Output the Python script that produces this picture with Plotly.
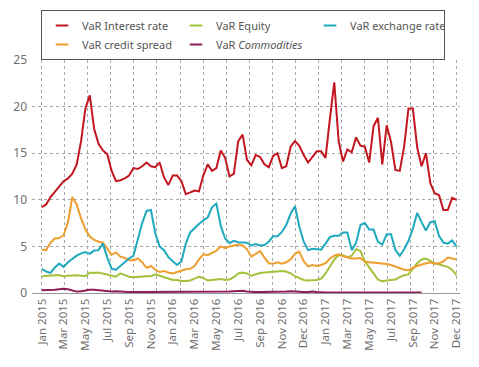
import plotly.graph_objects as go

tick_labels = ["Jan 2015", "Mar 2015", "May 2015", "Jul 2015", "Sep 2015", "Nov 2015",
               "Jan 2016", "Mar 2016", "May 2016", "Jul 2016", "Sep 2016", "Nov 2016",
               "Dec 2016", "Jan 2017", "Mar 2017", "May 2017", "Jul 2017", "Sep 2017",
               "Nov 2017", "Dec 2017"]

interest_rate = [9.2, 9.5, 10.3, 10.9, 11.5, 12.0, 12.3, 12.8, 13.8, 16.3,
                 19.8, 21.2, 17.6, 16.0, 15.3, 14.9, 13.1, 12.0, 12.1, 12.3,
                 12.6, 13.4, 13.3, 13.6, 14.0, 13.6, 13.5, 14.0, 12.4, 11.6,
                 12.6, 12.6, 12.0, 10.6, 10.8, 11.0, 10.9, 12.6, 13.8, 13.1,
                 13.4, 15.3, 14.5, 12.5, 12.8, 16.3, 17.0, 14.3, 13.7, 14.8,
                 14.6, 13.8, 13.5, 14.7, 15.0, 13.4, 13.6, 15.7, 16.3, 15.8,
                 14.8, 14.0, 14.6, 15.2, 15.2, 14.5, 18.7, 22.6, 16.3, 14.1,
                 15.4, 15.1, 16.7, 15.8, 15.7, 14.0, 17.9, 18.8, 13.8, 18.0,
                 16.2, 13.2, 13.1, 15.7, 19.8, 19.8, 15.6, 13.6, 15.0, 11.8,
                 10.7, 10.5, 8.9, 8.9, 10.2, 10.0]

equity = [1.8, 1.85, 1.9, 1.9, 1.9, 1.8, 1.85, 1.9, 1.9, 1.85,
          1.8, 2.2, 2.15, 2.2, 2.1, 1.95, 1.85, 1.75, 2.1, 1.9,
          1.75, 1.7, 1.75, 1.75, 1.8, 1.8, 2.0, 1.85, 1.7, 1.5,
          1.4, 1.4, 1.3, 1.3, 1.35, 1.55, 1.75, 1.6, 1.35, 1.4,
          1.45, 1.5, 1.4, 1.45, 1.7, 2.1, 2.2, 2.1, 1.85, 2.0,
          2.15, 2.2, 2.25, 2.3, 2.35, 2.35, 2.3, 2.1, 1.8, 1.6,
          1.4, 1.35, 1.35, 1.4, 1.55, 2.1, 2.85, 3.6, 4.05, 4.05,
          3.85, 4.0, 4.7, 4.5, 3.4, 2.7, 2.1, 1.45, 1.25, 1.35,
          1.4, 1.45, 1.7, 1.9, 2.0, 2.6, 3.2, 3.6, 3.7, 3.45,
          3.2, 3.05, 2.9, 2.8, 2.5, 1.9]

exchange_rate = [2.6, 2.3, 2.15, 2.75, 3.15, 2.8, 3.3, 3.7, 4.0, 4.25,
                 4.4, 4.2, 4.55, 4.6, 5.3, 3.8, 2.6, 2.5, 2.9, 3.4,
                 3.7, 4.0, 5.7, 7.5, 8.8, 8.9, 6.4, 5.0, 4.6, 3.85,
                 3.4, 3.0, 3.4, 5.3, 6.5, 7.0, 7.4, 7.8, 8.1, 9.2,
                 9.6, 7.2, 5.85, 5.35, 5.6, 5.45, 5.4, 5.4, 5.1, 5.25,
                 5.1, 5.15, 5.5, 6.1, 6.1, 6.55, 7.3, 8.5, 9.3, 7.1,
                 5.5, 4.6, 4.75, 4.7, 4.65, 5.3, 6.0, 6.15, 6.15, 6.5,
                 6.5, 4.6, 5.4, 7.3, 7.5, 6.8, 6.8, 5.5, 5.2, 6.3,
                 6.3, 4.6, 4.0, 4.7, 5.6, 6.9, 8.6, 7.6, 6.7, 7.6,
                 7.7, 6.1, 5.4, 5.3, 5.65, 5.0]

credit_spread = [4.65, 4.6, 5.4, 5.85, 5.9, 6.2, 7.6, 10.3, 9.5, 8.0,
                 6.8, 6.05, 5.7, 5.5, 5.4, 4.8, 4.1, 4.35, 3.9, 3.75,
                 3.55, 3.5, 3.7, 3.3, 2.7, 2.9, 2.5, 2.25, 2.35, 2.2,
                 2.1, 2.25, 2.4, 2.55, 2.6, 2.9, 3.6, 4.15, 4.05, 4.3,
                 4.55, 5.0, 4.8, 5.0, 5.1, 5.2, 5.1, 4.7, 3.9, 4.2,
                 4.5, 3.8, 3.2, 3.15, 3.3, 3.15, 3.3, 3.6, 4.2, 4.45,
                 3.4, 2.85, 3.0, 2.9, 3.0, 3.2, 3.7, 4.0, 4.15, 3.95,
                 3.85, 3.7, 3.7, 3.75, 3.35, 3.3, 3.3, 3.2, 3.15, 3.1,
                 3.0, 2.85, 2.65, 2.5, 2.45, 2.7, 2.9, 3.05, 3.2, 3.3,
                 3.15, 3.2, 3.4, 3.8, 3.7, 3.6]

commodities = [0.3, 0.3, 0.3, 0.35, 0.4, 0.45, 0.4, 0.25, 0.15, 0.2,
               0.3, 0.35, 0.35, 0.3, 0.25, 0.25, 0.15, 0.2, 0.15, 0.1,
               0.1, 0.1, 0.1, 0.1, 0.1, 0.1, 0.1, 0.1, 0.1, 0.1,
               0.1, 0.1, 0.1, 0.1, 0.1, 0.1, 0.1, 0.1, 0.1, 0.1,
               0.1, 0.1, 0.1, 0.15, 0.2, 0.25, 0.25, 0.15, 0.1, 0.1,
               0.1, 0.1, 0.1, 0.1, 0.1, 0.1, 0.15, 0.2, 0.15, 0.1,
               0.1, 0.1, 0.15, 0.1, 0.05, 0.05, 0.05, 0.05, 0.05, 0.05,
               0.05, 0.05, 0.05, 0.05, 0.05, 0.05, 0.05, 0.05, 0.05, 0.05,
               0.05, 0.05, 0.05, 0.05, 0.05, 0.05, 0.05, 0.05, None, None,
               None, None, None, None, None, None]

n = len(interest_rate)
x = list(range(n))
step = (n - 1) / (len(tick_labels) - 1)
tick_vals = [i * step for i in range(len(tick_labels))]
n_grid = 19
grid_vals = [i * (n - 1) / (n_grid - 1) for i in range(n_grid)]

series = [
    ("VaR Interest rate", interest_rate, "#C3161F"),
    ("VaR Equity", equity, "#A3C23C"),
    ("VaR exchange rate", exchange_rate, "#1FA9BE"),
    ("VaR credit spread", credit_spread, "#EE9E2E"),
    ("VaR <i>Commodities</i>", commodities, "#8E1F55"),
]
draw_order = [4, 1, 3, 2, 0]

fig = go.Figure()
# invisible helper so the grid axis is rendered
fig.add_trace(go.Scatter(x=[None], y=[None], xaxis="x2", yaxis="y",
                         mode="lines", showlegend=False, hoverinfo="skip"))
for k in draw_order:
    name, vals, col = series[k]
    fig.add_trace(go.Scatter(x=x, y=vals, mode="lines", name=name,
                             line=dict(color=col, width=2), showlegend=False,
                             connectgaps=False))
for name, vals, col in series:
    fig.add_trace(go.Scatter(x=[None], y=[None], mode="markers", name=name,
                             marker=dict(symbol="line-ew", size=9,
                                         line=dict(color=col, width=2))))

# the page body adds an 8px offset, so the figure is sized to fit the window
W, H = 471, 359
rng = [-2.24, 95.8]
fig.update_layout(
    width=W, height=H,
    margin=dict(l=24, r=19, t=52, b=74),
    paper_bgcolor="white", plot_bgcolor="white",
    font=dict(family="Noto Sans, Open Sans, sans-serif", size=11, color="#6f6f6f"),
    legend=dict(orientation="h", xref="container", yref="container",
                x=33 / W, y=1 - 2 / H, xanchor="left", yanchor="top",
                bordercolor="#555555", borderwidth=1, bgcolor="white",
                font=dict(size=11, color="#555555"),
                entrywidth=89, entrywidthmode="pixels",
                itemwidth=30, tracegroupgap=0),
    xaxis=dict(range=rng, tickmode="array", tickvals=tick_vals, ticktext=tick_labels,
               tickangle=-90, showgrid=False, zeroline=False, automargin=False,
               showline=True, linecolor="#9a9a9a", linewidth=1,
               ticks="", tickfont=dict(size=11.5, color="#6f6f6f")),
    xaxis2=dict(range=rng, overlaying="x", anchor="y", tickmode="array",
                tickvals=grid_vals, showticklabels=False, showgrid=True,
                gridcolor="#a8a8a8", griddash="dot", gridwidth=1, zeroline=False,
                showline=False, ticks="", automargin=False),
    yaxis=dict(range=[0, 25], tickvals=[0, 5, 10, 15, 20, 25], showgrid=True,
               gridcolor="#a8a8a8", griddash="dot", gridwidth=1, zeroline=False,
               showline=False, ticks="", ticklabelstandoff=4, automargin=False,
               tickfont=dict(size=12, color="#6f6f6f")),
)

fig.write_html("out.html")
